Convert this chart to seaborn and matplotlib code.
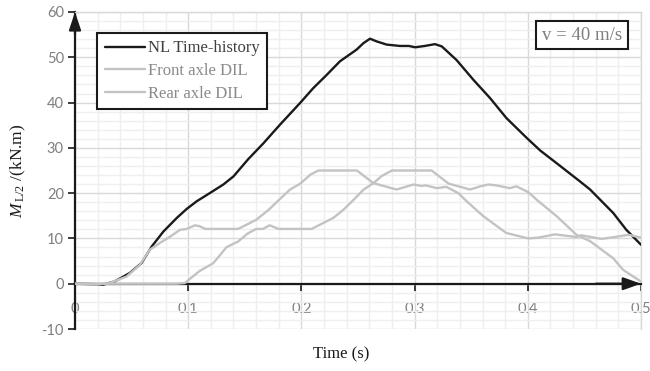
import numpy as np
import pandas as pd
import matplotlib
matplotlib.use("Agg")
import matplotlib.pyplot as plt
from matplotlib.ticker import MultipleLocator
import seaborn as sns

# ---------------- data ----------------
nl_t = [0, 0.02, 0.025, 0.035, 0.0486, 0.0589, 0.0677, 0.078, 0.0898, 0.0986,
        0.1075, 0.119, 0.131, 0.140, 0.153, 0.1664, 0.181, 0.1988, 0.2105,
        0.2223, 0.234, 0.2488, 0.2547, 0.2606, 0.2665, 0.2753, 0.287, 0.295,
        0.3004, 0.309, 0.318, 0.324, 0.337, 0.352, 0.3666, 0.381, 0.399, 0.411,
        0.4255, 0.446, 0.455, 0.4755, 0.487, 0.5]
nl_m = [0, -0.1, -0.2, 0.5, 2.4, 4.6, 8.2, 11.5, 14.5, 16.5,
        18.2, 20.0, 21.9, 23.7, 27.5, 31.0, 35.1, 39.9, 43.2,
        46.1, 49.1, 51.7, 53.1, 54.1, 53.5, 52.8, 52.5, 52.5,
        52.2, 52.5, 52.9, 52.4, 49.4, 45.0, 41.0, 36.6, 32.2, 29.4,
        26.6, 22.6, 20.8, 15.6, 11.9, 8.6]

front_t = [0, 0.02, 0.03, 0.0457, 0.0574, 0.066, 0.075, 0.084, 0.0928, 0.0986,
           0.106, 0.110, 0.115, 0.143, 0.145, 0.160, 0.171, 0.181, 0.190, 0.199,
           0.208, 0.215, 0.249, 0.2636, 0.284, 0.299, 0.306, 0.310, 0.3195, 0.328,
           0.3386, 0.346, 0.3607, 0.381, 0.4005, 0.41, 0.424, 0.443, 0.447, 0.465,
           0.474, 0.489, 0.5]
front_m = [0, -0.1, 0.1, 1.6, 4.2, 7.5, 9.0, 10.4, 11.9, 12.1,
           12.9, 12.7, 12.1, 12.1, 12.2, 14.1, 16.3, 18.7, 20.8, 22.1,
           24.1, 25.0, 25.0, 22.2, 20.8, 21.9, 21.6, 21.7, 21.1, 21.4,
           20.0, 18.2, 14.9, 11.2, 10.0, 10.2, 10.9, 10.3, 10.7, 9.9,
           10.2, 10.8, 10.2]

rear_t = [0, 0.09, 0.097, 0.110, 0.122, 0.134, 0.144, 0.152, 0.160, 0.166,
          0.172, 0.1796, 0.209, 0.228, 0.237, 0.246, 0.255, 0.2636, 0.271, 0.280,
          0.315, 0.330, 0.349, 0.358, 0.365, 0.3725, 0.384, 0.390, 0.4005, 0.408,
          0.4255, 0.443, 0.455, 0.4755, 0.484, 0.493, 0.5]
rear_m = [0, 0, 0.15, 2.8, 4.5, 8.1, 9.3, 11.0, 12.1, 12.1,
          12.9, 12.1, 12.1, 14.5, 16.3, 18.5, 20.8, 22.2, 23.8, 25.0,
          25.0, 22.1, 20.8, 21.5, 21.9, 21.7, 21.1, 21.5, 20.2, 18.5,
          14.9, 10.8, 9.4, 5.6, 3.1, 1.6, 0.5]

series_names = ["NL Time-history", "Front axle DIL", "Rear axle DIL"]
x_ticks = [0, 0.1, 0.2, 0.3, 0.4, 0.5]
x_tick_labels = ["0", "0.1", "0.2", "0.3", "0.4", "0.5"]
y_ticks = [-10, 0, 10, 20, 30, 40, 50, 60]

SERIF = ["Liberation Serif", "DejaVu Serif"]

# ---------------- styling ----------------
sns.set_theme(style="white")
plt.rcParams["font.family"] = ["Lato", "DejaVu Sans"]
plt.rcParams["mathtext.fontset"] = "custom"
plt.rcParams["mathtext.rm"] = "Liberation Serif"
plt.rcParams["mathtext.it"] = "Liberation Serif:italic"
plt.rcParams["axes.unicode_minus"] = False

fig = plt.figure(figsize=(6.5, 3.71), dpi=100)
ax = fig.add_axes([0.1154, 0.1132, 0.8708, 0.8545])

frames = [
    pd.DataFrame({"t": nl_t, "m": nl_m, "s": series_names[0]}),
    pd.DataFrame({"t": front_t, "m": front_m, "s": series_names[1]}),
    pd.DataFrame({"t": rear_t, "m": rear_m, "s": series_names[2]}),
]
colors = ["#1a1a1a", "#c3c3c3", "#c3c3c3"]
for df, c in zip(frames, colors):
    sns.lineplot(data=df, x="t", y="m", ax=ax, color=c, lw=1.7,
                 label=df["s"].iloc[0], sort=False, estimator=None, zorder=3)

ax.set_xlim(0, 0.5)
ax.set_ylim(-10, 60)
ax.xaxis.set_major_locator(MultipleLocator(0.1))
ax.xaxis.set_minor_locator(MultipleLocator(0.02))
ax.yaxis.set_major_locator(MultipleLocator(10))
ax.yaxis.set_minor_locator(MultipleLocator(2))
ax.set_xticks(x_ticks)
ax.set_xticklabels(x_tick_labels)
ax.set_yticks(y_ticks)

ax.grid(True, which="major", color="#d9d9d9", lw=1.0, zorder=0)
ax.grid(True, which="minor", color="#efefef", lw=1.0, zorder=0)
ax.set_axisbelow(True)

# spines
ax.spines["bottom"].set_position(("data", 0))
ax.spines["bottom"].set_color("#1a1a1a")
ax.spines["bottom"].set_linewidth(1.6)
ax.spines["left"].set_color("#1a1a1a")
ax.spines["left"].set_linewidth(1.6)
for s in ["top", "right"]:
    ax.spines[s].set_color("#d9d9d9")
    ax.spines[s].set_linewidth(1.0)

ax.tick_params(axis="x", which="major", direction="out", length=5, width=1.2,
               color="#1a1a1a", pad=8, bottom=True, labelsize=10.5,
               labelcolor="#7f7f7f")
ax.tick_params(axis="y", which="major", direction="out", length=5, width=1.2,
               color="#1a1a1a", pad=3, left=True, labelsize=10.5,
               labelcolor="#7f7f7f")
ax.tick_params(which="minor", length=0)

# arrows on axes
ax.annotate("", xy=(0.5, 0), xytext=(0.46, 0),
            arrowprops=dict(arrowstyle="-|>,head_length=0.9,head_width=0.32",
                            color="#1a1a1a", lw=1.6, shrinkA=0, shrinkB=0),
            annotation_clip=False, zorder=5)
ax.annotate("", xy=(0, 60), xytext=(0, 55),
            arrowprops=dict(arrowstyle="-|>,head_length=0.9,head_width=0.3",
                            color="#1a1a1a", lw=1.6, shrinkA=0, shrinkB=0),
            annotation_clip=False, zorder=5)

ax.set_xlabel("Time (s)", fontsize=12, color="#1a1a1a", fontfamily=SERIF)
ax.xaxis.set_label_coords(0.47, -0.055)
ax.set_ylabel(r"$M_{\,\mathrm{L/2}}$ /(kN.m)", fontsize=12.5, color="#1a1a1a",
              fontfamily=SERIF)
ax.yaxis.set_label_coords(-0.083, 0.5)

leg = ax.legend(loc="upper left", bbox_to_anchor=(0.039, 0.934), borderaxespad=0,
                fancybox=False, frameon=True, prop={"family": SERIF, "size": 12},
                handlelength=2.4, labelspacing=0.4, borderpad=0.45,
                handletextpad=0.2)
leg.get_frame().set_edgecolor("#1a1a1a")
leg.get_frame().set_linewidth(1.5)
leg.get_frame().set_facecolor("white")
leg.get_frame().set_alpha(1)
for i, t in enumerate(leg.get_texts()):
    t.set_color("#404040" if i == 0 else "#8a8a8a")
for h in leg.get_lines():
    h.set_linewidth(1.7)

ax.text(0.896, 0.927, "v = 40 m/s", transform=ax.transAxes, fontsize=13.5,
        fontfamily=SERIF, color="#7f7f7f", ha="center", va="center", zorder=6,
        bbox=dict(boxstyle="square,pad=0.3", fc="white", ec="#1a1a1a", lw=1.5))

fig.savefig("out.png", dpi=100)
